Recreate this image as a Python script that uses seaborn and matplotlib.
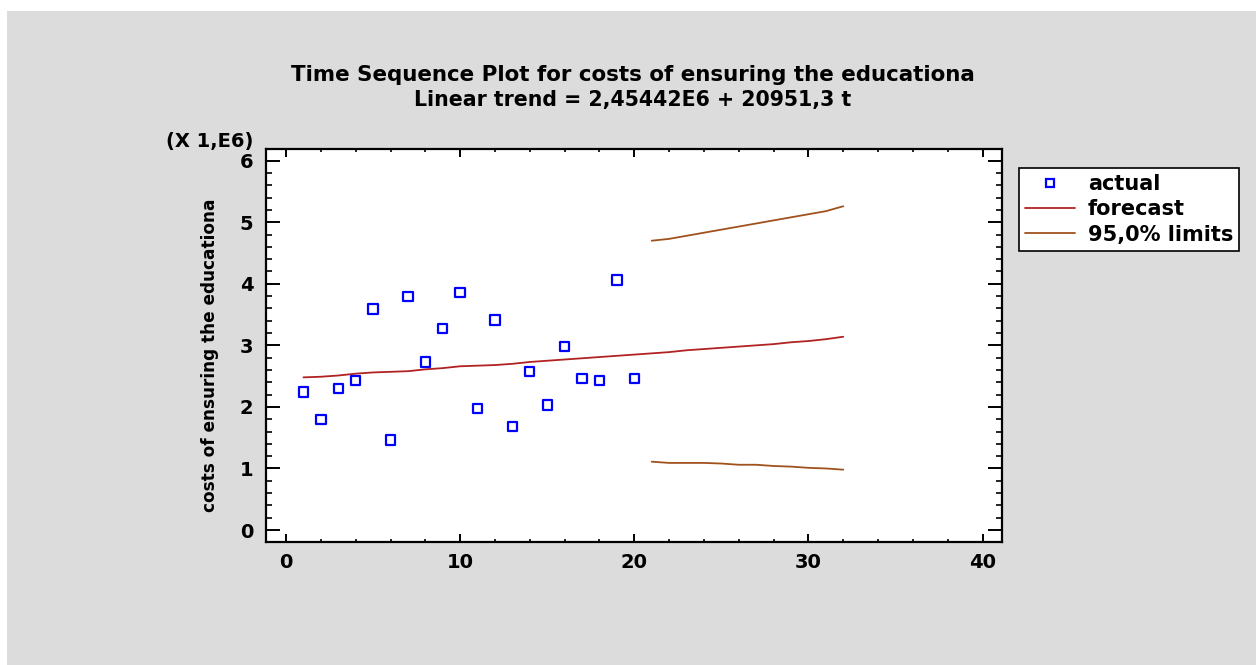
import matplotlib
matplotlib.use("Agg")
import matplotlib.pyplot as plt
import matplotlib.patches as mpatches
from matplotlib.lines import Line2D
from matplotlib.ticker import MultipleLocator
import seaborn as sns
import pandas as pd

# observed values (in millions), t = 1..20
t_actual = list(range(1, 21))
actual = [2.24, 1.79, 2.30, 2.43, 3.59, 1.46, 3.79, 2.73, 3.27, 3.86,
          1.97, 3.41, 1.68, 2.57, 2.03, 2.98, 2.46, 2.43, 4.06, 2.46]

# fitted trend, t = 1..32
t_forecast = list(range(1, 33))
forecast = [2.48, 2.49, 2.51, 2.54, 2.56, 2.57, 2.58, 2.61, 2.63, 2.66,
            2.67, 2.68, 2.70, 2.73, 2.75, 2.77, 2.79, 2.81, 2.83, 2.85,
            2.87, 2.89, 2.92, 2.94, 2.96, 2.98, 3.00, 3.02, 3.05, 3.07,
            3.10, 3.14]

# 95% limits, t = 21..32
t_limits = list(range(21, 33))
upper = [4.70, 4.73, 4.78, 4.83, 4.88, 4.93, 4.98, 5.03, 5.08, 5.13, 5.18, 5.26]
lower = [1.11, 1.09, 1.09, 1.09, 1.08, 1.06, 1.06, 1.04, 1.03, 1.01, 1.00, 0.98]

BG = "#DCDCDC"
BLUE = "#0000FF"
RED = "#B22222"
BROWN = "#A0521D"
FS = 14

sns.set_style("white")
plt.rcParams["font.family"] = ["DejaVu Sans"]
plt.rcParams["font.weight"] = "bold"
plt.rcParams["text.color"] = "black"

fig = plt.figure(figsize=(12.56, 6.65), dpi=100, facecolor="white")
fig.patches.append(mpatches.Rectangle((7 / 1256, 0), 1, 1 - 11 / 665,
                                      transform=fig.transFigure,
                                      facecolor=BG, edgecolor="none", zorder=-10))

ax = fig.add_axes([266 / 1256, 1 - 541.7 / 665, (1001.7 - 266) / 1256,
                   (541.7 - 149) / 665])
ax.set_facecolor("white")

df_act = pd.DataFrame({"t": t_actual, "value": actual})
df_fc = pd.DataFrame({"t": t_forecast, "value": forecast})
df_up = pd.DataFrame({"t": t_limits, "value": upper})
df_lo = pd.DataFrame({"t": t_limits, "value": lower})

sns.lineplot(data=df_fc, x="t", y="value", color=RED, linewidth=1.3, ax=ax)
sns.lineplot(data=df_up, x="t", y="value", color=BROWN, linewidth=1.3, ax=ax)
sns.lineplot(data=df_lo, x="t", y="value", color=BROWN, linewidth=1.3, ax=ax)
sns.scatterplot(data=df_act, x="t", y="value", marker="s", s=45,
                facecolor="none", edgecolor=BLUE, linewidth=1.6, ax=ax, zorder=5)

ax.set_xlim(-1.15, 41.1)
ax.set_ylim(-0.19, 6.19)
ax.xaxis.set_major_locator(MultipleLocator(10))
ax.xaxis.set_minor_locator(MultipleLocator(2))
ax.yaxis.set_major_locator(MultipleLocator(1))
ax.yaxis.set_minor_locator(MultipleLocator(0.2))
ax.set_xlabel("")
ax.set_ylabel("")

for s in ax.spines.values():
    s.set_visible(True)
    s.set_color("black")
    s.set_linewidth(1.6)

ax.tick_params(axis="both", which="both", direction="in", colors="black",
               top=True, right=True, bottom=True, left=True)
ax.tick_params(axis="x", which="major", length=6, width=1.4, pad=8, labelsize=FS)
ax.tick_params(axis="x", which="minor", length=2.5, width=1.2)
ax.tick_params(axis="y", which="major", length=10, width=1.4, pad=9, labelsize=FS)
ax.tick_params(axis="y", which="minor", length=4.5, width=1.2)
for lab in ax.get_xticklabels() + ax.get_yticklabels():
    lab.set_fontweight("bold")

fig.text(633 / 1256, 1 - 75 / 665,
         "Time Sequence Plot for costs of ensuring the educationa",
         ha="center", va="center", fontsize=15.4, fontweight="bold")
fig.text(633 / 1256, 1 - 100 / 665,
         "Linear trend = 2,45442E6 + 20951,3 t",
         ha="center", va="center", fontsize=14.8, fontweight="bold")
fig.text(210 / 1256, 1 - 141 / 665, "(X 1,E6)", ha="center", va="center",
         fontsize=FS, fontweight="bold")
fig.text(210 / 1256, 1 - 355 / 665, "costs of ensuring the educationa",
         rotation=90, ha="center", va="center", fontsize=12.2, fontweight="bold")

handles = [
    Line2D([], [], marker="s", linestyle="none", markerfacecolor="none",
           markeredgecolor=BLUE, markeredgewidth=1.6, markersize=6),
    Line2D([], [], color=RED, linewidth=1.3),
    Line2D([], [], color=BROWN, linewidth=1.3),
]
leg = fig.legend(handles, ["actual", "forecast", "95,0% limits"],
                 loc="upper left", bbox_to_anchor=(1019 / 1256, 1 - 168 / 665),
                 frameon=True, fancybox=False, edgecolor="black",
                 facecolor="white", framealpha=1,
                 prop={"weight": "bold", "size": 15},
                 handlelength=2.4, handletextpad=0.6, labelspacing=0.25,
                 borderpad=0.3, borderaxespad=0)
leg.get_frame().set_linewidth(1.2)

fig.savefig("out.png", dpi=100, facecolor="white")
